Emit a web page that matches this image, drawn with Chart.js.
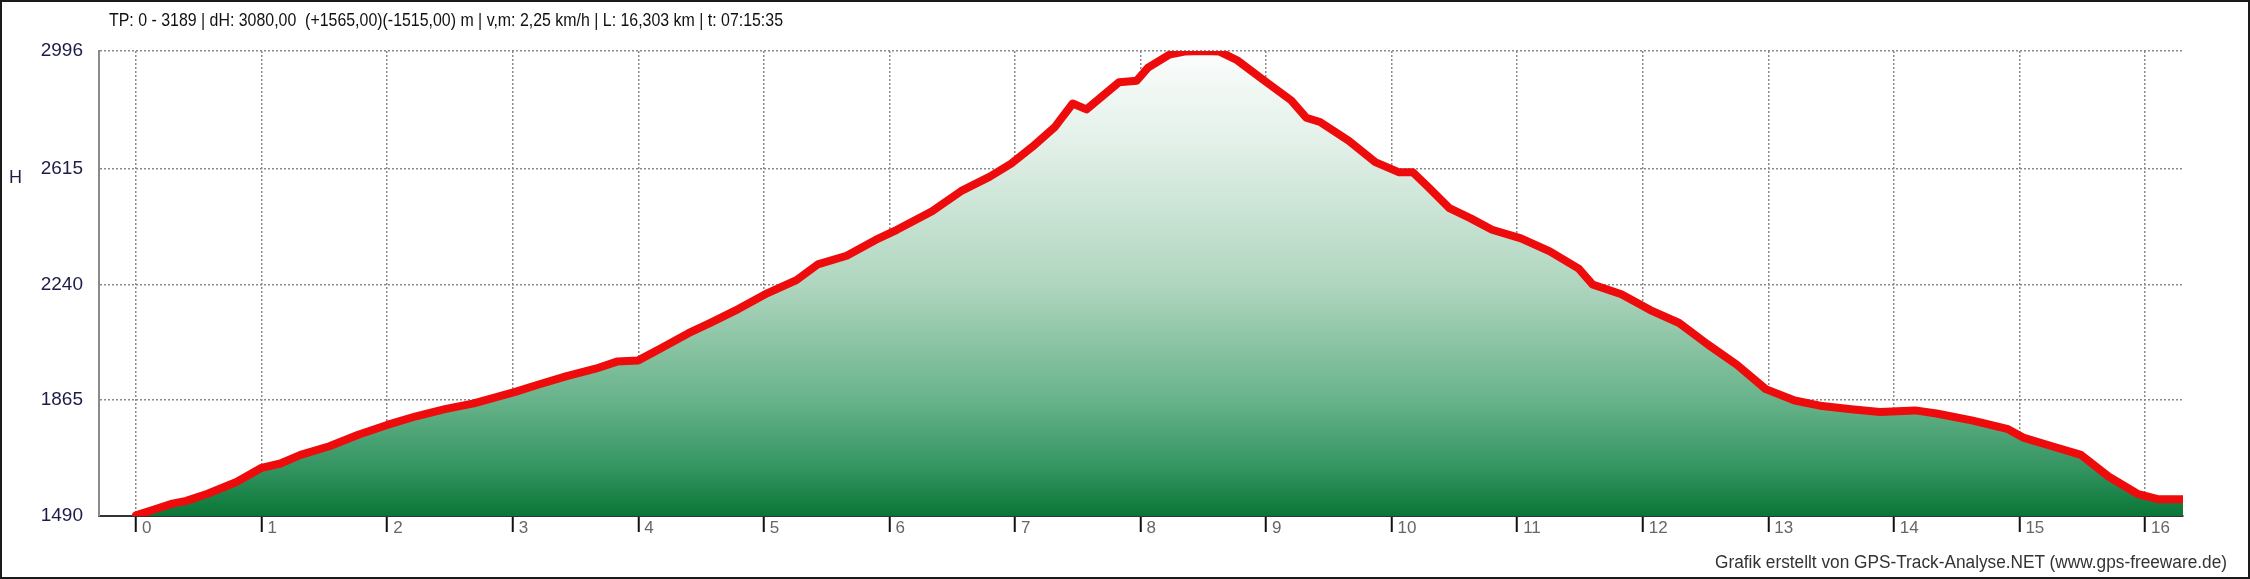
<!DOCTYPE html>
<html>
<head>
<meta charset="utf-8">
<script src="https://cdn.jsdelivr.net/npm/chart.js@4.4.1/dist/chart.umd.min.js"></script>
<style>
  html, body { margin: 0; padding: 0; background: #fff; }
  #wrap { position: relative; width: 2250px; height: 579px; overflow: hidden; }
  #chart { position: absolute; left: 0; top: 0; }
  #frame { position: absolute; left: 0; top: 0; width: 2246px; height: 575px; border: 2px solid #1a1a1a; pointer-events: none; }
  .txt { position: absolute; white-space: nowrap; transform-origin: 0 50%; }
  #header { left: 109px; top: 9px; font: 19px/22px "Liberation Sans Narrow", "Arial Narrow", "Liberation Sans", sans-serif; color: #111; }
  #footer { top: 551px; font: 18px/22px "Liberation Sans Narrow", "Arial Narrow", "Liberation Sans", sans-serif; color: #333; }
  #ytitle { left: 9px; top: 166px; font: 18px/22px "Liberation Sans", Arial, sans-serif; color: #1c1c48; }
</style>
</head>
<body>
<div id="wrap">
  <canvas id="chart" width="2250" height="579"></canvas>
  <div id="header" class="txt">TP: 0 - 3189 | dH: 3080,00&nbsp; (+1565,00)(-1515,00) m | v,m: 2,25 km/h | L: 16,303 km | t: 07:15:35</div>
  <div id="footer" class="txt">Grafik erstellt von GPS-Track-Analyse.NET (www.gps-freeware.de)</div>
  <div id="ytitle" class="txt">H</div>
  <div id="frame"></div>
</div>
<script>
// Track profile: distance (km) and elevation (m)
const distanceKm = [
  0.00, 0.15, 0.29, 0.40, 0.57, 0.80, 1.00, 1.15, 1.31, 1.54, 1.77, 2.00,
  2.23, 2.46, 2.69, 3.02, 3.20, 3.43, 3.66, 3.83, 4.00, 4.17, 4.40, 4.57,
  4.80, 5.03, 5.26, 5.43, 5.66, 5.89, 6.06, 6.34, 6.57, 6.80, 6.97, 7.14,
  7.32, 7.46, 7.57, 7.72, 7.83, 7.97, 8.06, 8.23, 8.35, 8.50, 8.63, 8.77,
  8.97, 9.20, 9.32, 9.43, 9.66, 9.87, 10.06, 10.17, 10.29, 10.46, 10.63, 10.80,
  11.03, 11.26, 11.49, 11.60, 11.83, 12.06, 12.29, 12.52, 12.75, 12.98, 13.21, 13.43,
  13.66, 13.89, 14.17, 14.34, 14.63, 14.91, 15.03, 15.26, 15.49, 15.71, 15.94, 16.11,
  16.303
];
const elevationM = [
  1492, 1512, 1530, 1539, 1562, 1600, 1646, 1660, 1688, 1716, 1753, 1785,
  1813, 1836, 1855, 1892, 1915, 1943, 1967, 1990, 1994, 2031, 2082, 2115,
  2161, 2212, 2254, 2305, 2333, 2384, 2417, 2477, 2542, 2589, 2631, 2686,
  2751, 2826, 2807, 2858, 2895, 2900, 2942, 2984, 2994, 2996, 2994, 2966,
  2905, 2836, 2780, 2766, 2705, 2636, 2603, 2603, 2556, 2487, 2454, 2417,
  2389, 2347, 2291, 2240, 2208, 2157, 2115, 2045, 1980, 1901, 1864, 1846,
  1836, 1827, 1832, 1822, 1799, 1771, 1744, 1716, 1688, 1618, 1562, 1544,
  1544
];

const xTicks = [0, 1, 2, 3, 4, 5, 6, 7, 8, 9, 10, 11, 12, 13, 14, 15, 16];
const yTicks = [1490, 1865, 2240, 2615, 2996];

// Vertical gradient under the profile line, white at the top to deep green
function fillGradient(context) {
  const { ctx, chartArea } = context.chart;
  if (!chartArea) return null;
  const g = ctx.createLinearGradient(0, chartArea.top, 0, chartArea.bottom);
  g.addColorStop(0, '#fbfdfc');
  g.addColorStop(0.2, '#e2f0e8');
  g.addColorStop(0.5, '#b0d6bf');
  g.addColorStop(0.75, '#68b38b');
  g.addColorStop(0.9, '#329460');
  g.addColorStop(1, '#097636');
  return g;
}

// Solid left axis line (border.dash would make it dotted like the grid)
const solidYAxis = {
  id: 'solidYAxis',
  afterDraw(chart) {
    const { ctx, chartArea } = chart;
    ctx.save();
    ctx.strokeStyle = '#8a8a8a';
    ctx.lineWidth = 2;
    ctx.beginPath();
    ctx.moveTo(chartArea.left, chartArea.top);
    ctx.lineTo(chartArea.left, chartArea.bottom);
    ctx.stroke();
    ctx.restore();
  }
};

const ctx = document.getElementById('chart').getContext('2d');
new Chart(ctx, {
  type: 'line',
  data: {
    datasets: [{
      label: 'H',
      data: distanceKm.map((d, i) => ({ x: d, y: elevationM[i] })),
      borderColor: '#ee0b0b',
      borderWidth: 8,
      borderJoinStyle: 'round',
      borderCapStyle: 'round',
      backgroundColor: fillGradient,
      fill: 'start',
      tension: 0,
      pointRadius: 0
    }]
  },
  options: {
    responsive: false,
    animation: false,
    layout: { padding: { top: 51, right: 67, bottom: 0, left: 0 } },
    plugins: {
      legend: { display: false },
      tooltip: { enabled: false }
    },
    scales: {
      x: {
        type: 'linear',
        min: -0.295,
        max: 16.303,
        afterBuildTicks: s => { s.ticks = xTicks.map(v => ({ value: v })); },
        afterFit: s => { s.height = 63; },
        grid: {
          color: '#8a8a8a',
          lineWidth: 1.5,
          drawTicks: true,
          tickLength: 16,
          tickColor: '#111',
          tickWidth: 2,
          tickBorderDash: []
        },
        border: { display: true, color: '#333', width: 2, dash: [2, 2] },
        ticks: {
          align: 'start',
          labelOffset: 6,
          padding: -14,
          color: '#666',
          font: { family: '"Liberation Sans Narrow", "Arial Narrow", "Liberation Sans", sans-serif', size: 17 },
          callback: v => String(v)
        }
      },
      y: {
        type: 'linear',
        min: 1490,
        max: 2996,
        afterBuildTicks: s => { s.ticks = yTicks.map(v => ({ value: v })); },
        afterFit: s => { s.width = 99; },
        grid: {
          color: '#8a8a8a',
          lineWidth: 1.5,
          drawTicks: false
        },
        border: { display: true, color: '#8a8a8a', width: 2, dash: [2, 2] },
        ticks: {
          padding: 16,
          color: '#1c1c48',
          font: { family: '"Liberation Sans", Arial, sans-serif', size: 19 },
          callback: v => String(v)
        }
      }
    }
  },
  plugins: [solidYAxis]
});

// Squeeze the header and footer to the widths they have in the picture
function fitWidth(el, target) {
  const w = el.getBoundingClientRect().width;
  el.style.transform = 'scaleX(' + (target / w) + ')';
}
fitWidth(document.getElementById('header'), 674);
const footer = document.getElementById('footer');
fitWidth(footer, 512);
footer.style.left = (2227 - 512) + 'px';
</script>
</body>
</html>
